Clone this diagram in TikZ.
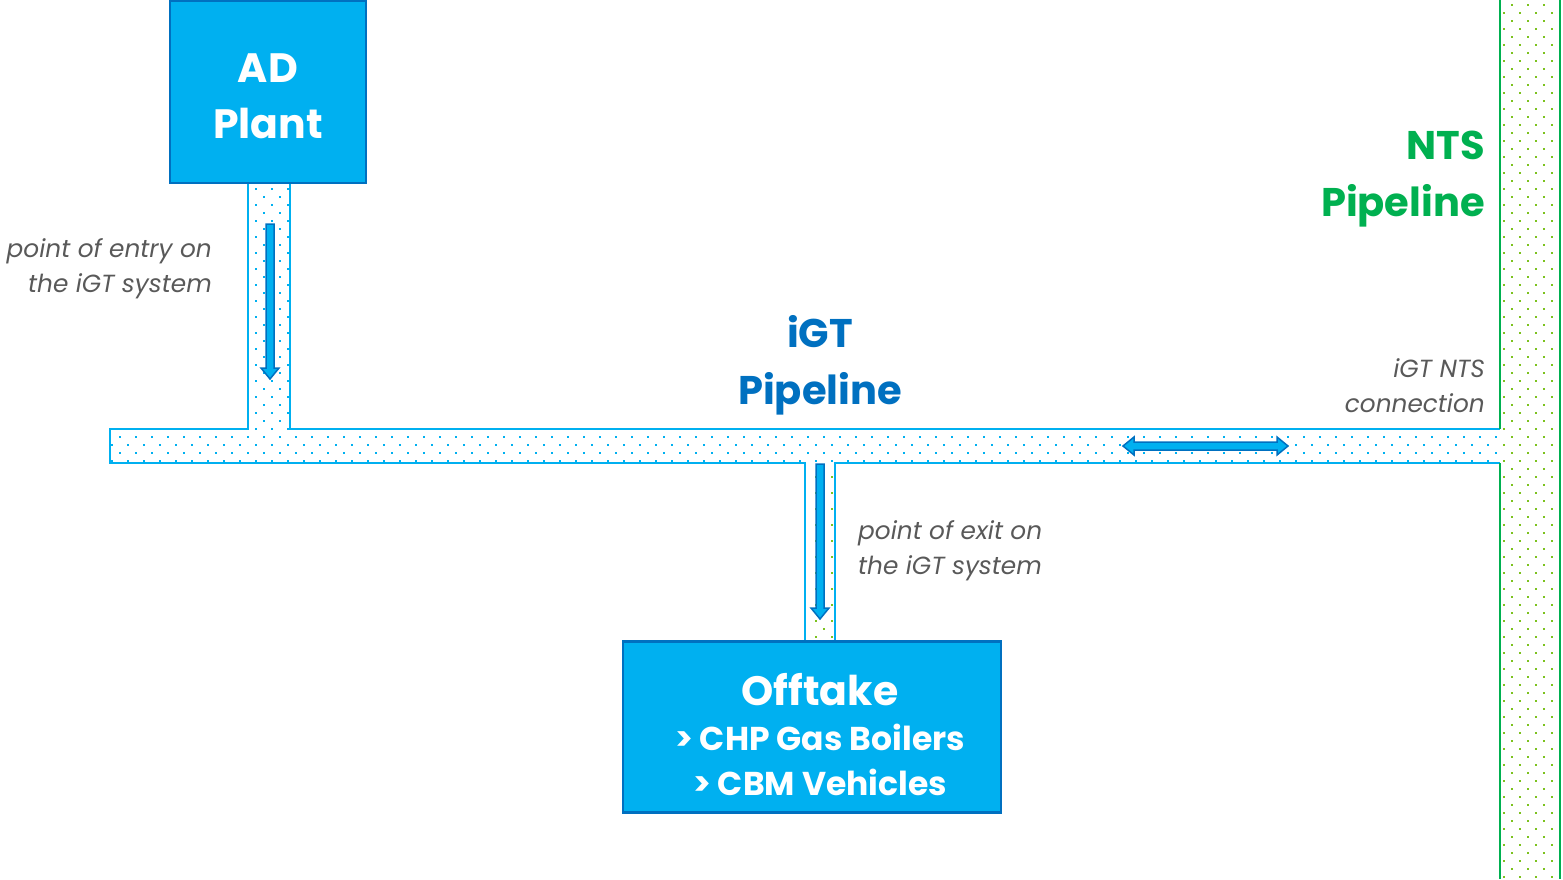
\documentclass[tikz,border=0pt]{standalone}
\usepackage{fontspec}
\setmainfont{Poppins}
\definecolor{sky}{HTML}{00B0F0}
\definecolor{deep}{HTML}{0070C0}
\definecolor{grn}{HTML}{00B050}
\definecolor{lgrn}{HTML}{7CC21E}
\definecolor{txtgray}{HTML}{595959}
\begin{document}
\begin{tikzpicture}[x=1pt,y=-1pt,
  plantbox/.style={draw=deep, fill=sky, line width=2.5pt, inner sep=0pt},
  boxtext/.style={text=white, font=\bfseries\fontsize{41}{56}\selectfont, align=center, inner sep=0pt},
  pipeline/.style={draw=sky, line width=2pt},
  ntsline/.style={draw=grn, line width=2.5pt},
  fatarrow/.style={fill=sky, draw=deep, line width=1.5pt, line join=miter},
  note/.style={text=txtgray, font=\itshape\fontsize{24.8}{35}\selectfont, inner sep=0pt},
  title/.style={font=\bfseries\fontsize{40}{57}\selectfont, inner sep=0pt, align=center}]
\useasboundingbox (0,0) rectangle (1563,879);

% ---------- dot fields ----------
\begin{scope}
  \clip (111,430) rectangle (1500,462);
  \foreach \x in {119,135,...,1500} \foreach \y in {436,452} \fill[sky] (\x,\y) rectangle ++(2,2);
  \foreach \x in {111,127,...,1500} \foreach \y in {444,460} \fill[sky] (\x,\y) rectangle ++(2,2);
\end{scope}
\begin{scope}
  \clip (249,184) rectangle (289,430);
  \foreach \x in {263,279} \foreach \y in {196,212,...,420} \fill[sky] (\x,\y) rectangle ++(2,2);
  \foreach \x in {255,271,287} \foreach \y in {188,204,...,428} \fill[sky] (\x,\y) rectangle ++(2,2);
\end{scope}
\begin{scope}
  \clip (806,464) rectangle (834,640);
  \foreach \x in {823} \foreach \y in {468,484,...,636} \fill[lgrn] (\x,\y) rectangle ++(2,2);
  \foreach \x in {815,831} \foreach \y in {476,492,...,636} \fill[lgrn] (\x,\y) rectangle ++(2,2);
\end{scope}
\begin{scope}
  \clip (1501,0) rectangle (1559,879);
  \foreach \x in {1511,1527,1543,1559} \foreach \y in {4,20,...,879} \fill[lgrn] (\x,\y) rectangle ++(2,2);
  \foreach \x in {1503,1519,1535,1551} \foreach \y in {12,28,...,879} \fill[lgrn] (\x,\y) rectangle ++(2,2);
\end{scope}

% ---------- boxes ----------
\node[plantbox, minimum width=196pt, minimum height=182pt] (ad) at (268,92) {};
\node[boxtext] (adtxt) at (268,96) {AD\\Plant};
\node[plantbox, minimum width=378pt, minimum height=171pt] (off) at (812,727) {};
\node[boxtext, font=\bfseries\fontsize{33}{45}\selectfont] (offtxt) at (820,735)
  {{\fontsize{41}{50}\selectfont Offtake}\\> CHP Gas Boilers\\> CBM Vehicles};

% ---------- pipes ----------
\coordinate (adL) at (ad.south -| 248,0);
\coordinate (adR) at (ad.south -| 290,0);
\coordinate (offL) at (off.north -| 805,0);
\coordinate (offR) at (off.north -| 835,0);
\draw[pipeline] (adL) -- (248,429) -- (110,429) -- (110,463) -- (805,463) -- (offL);
\draw[pipeline] (adR) -- (290,429) -- (1500,429);
\draw[pipeline] (offR) -- (835,463) -- (1500,463);
\draw[ntsline] (1500,0) -- (1500,429);
\draw[ntsline] (1500,463) -- (1500,879);
\draw[ntsline] (1560,0) -- (1560,879);

% ---------- arrows ----------
\draw[fatarrow] (266,224) -- (274,224) -- (274,368) -- (279,368) -- (270,379) -- (261,368) -- (266,368) -- cycle;
\draw[fatarrow] (816,464) -- (824,464) -- (824,608) -- (829,608) -- (820,619) -- (811,608) -- (816,608) -- cycle;
\draw[fatarrow] (1123,446) -- (1134,437) -- (1134,442) -- (1277,442) -- (1277,437) -- (1288,446)
   -- (1277,455) -- (1277,450) -- (1134,450) -- (1134,455) -- cycle;

% ---------- texts ----------
\node[title, text=deep] (igt) at (820,365) {iGT\\Pipeline};
\node[title, text=grn, align=right, anchor=east] (nts) at (1485,179) {NTS\\Pipeline};
\node[note, align=right, anchor=east] (entry) at (212,269) {point of entry on\\the iGT system};
\node[note, align=left, anchor=west] (exit) at (858,551) {point of exit on\\the iGT system};
\node[note, align=right, anchor=east] (conn) at (1485,386) {iGT NTS\\connection};
\end{tikzpicture}
\end{document}
